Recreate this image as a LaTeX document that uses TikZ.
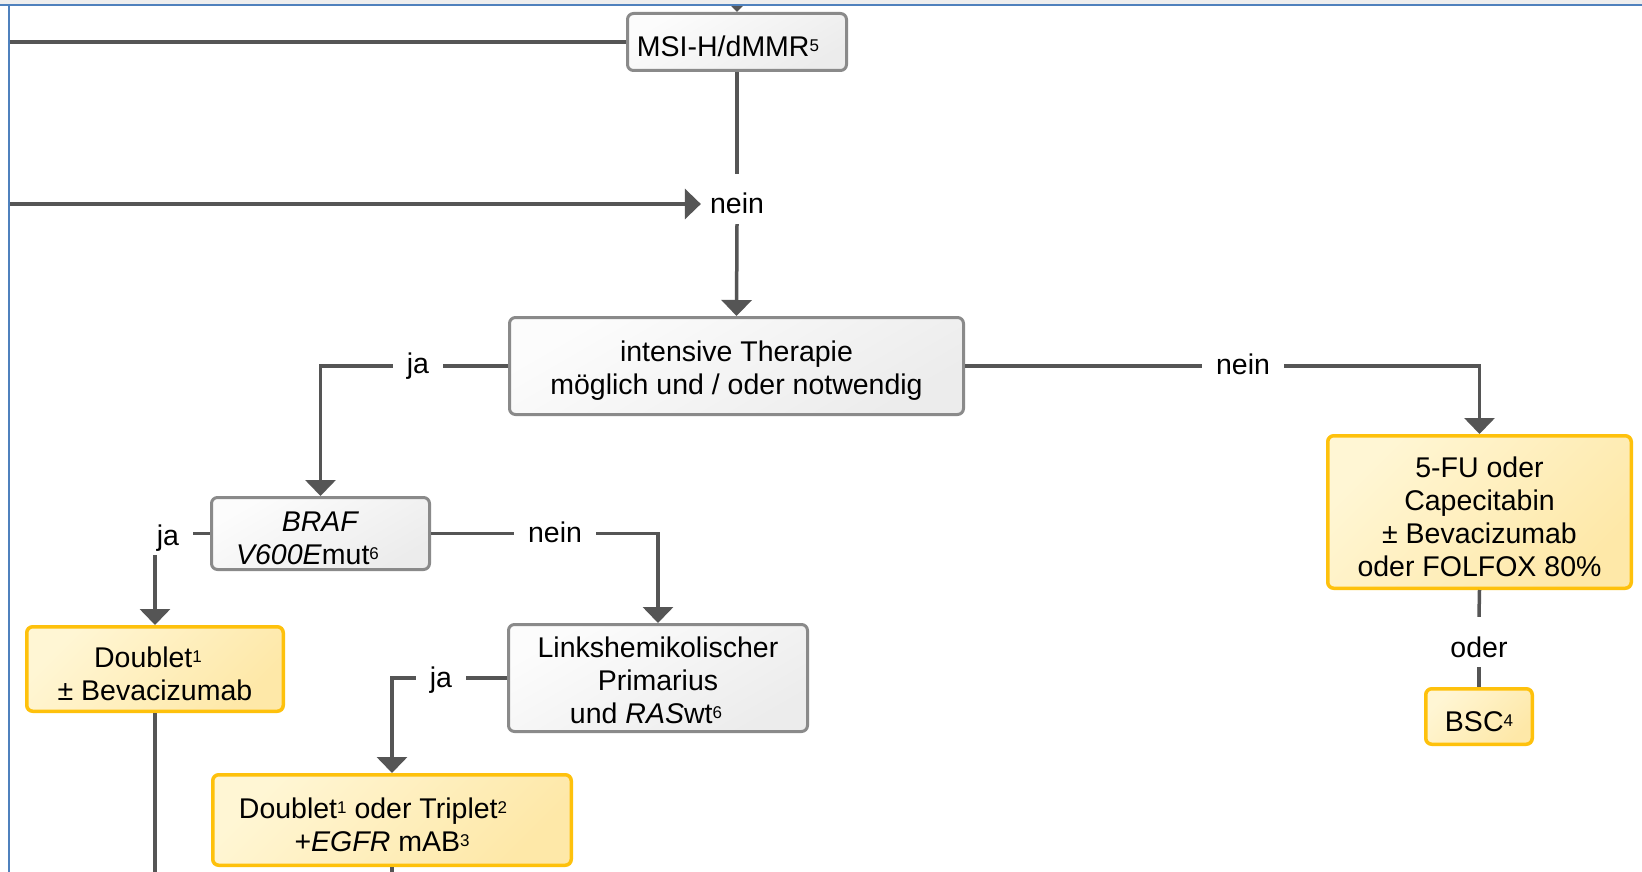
\documentclass[tikz,border=0pt]{standalone}
\usepackage{fontspec}
\setmainfont{Liberation Sans}
\usetikzlibrary{arrows.meta}

\definecolor{linecol}{RGB}{85,85,85}
\definecolor{grayborder}{RGB}{138,138,138}
\definecolor{grayA}{RGB}{252,252,252}
\definecolor{grayB}{RGB}{236,236,236}
\definecolor{yelborder}{RGB}{254,193,12}
\definecolor{yelA}{RGB}{255,246,212}
\definecolor{yelB}{RGB}{254,232,168}
\definecolor{frameblue}{RGB}{79,129,189}
\definecolor{bandgray}{RGB}{238,238,238}

\newcommand{\mainfs}{\fontsize{28.5pt}{33pt}\selectfont}
\newcommand{\supnum}[1]{\raisebox{5pt}{\fontsize{17pt}{17pt}\selectfont #1}}
% invisible strut that lowers the text block inside a box
\newcommand{\tstrut}{\rule{0pt}{30pt}}

\begin{document}
\begin{tikzpicture}[x=1pt,y=-1pt,
  box/.style={rounded corners=6pt, line width=3pt, align=center, font=\mainfs,
    inner sep=0pt, anchor=center},
  graybox/.style={box, draw=grayborder, top color=grayA, bottom color=grayB, shading angle=30},
  yelbox/.style={box, draw=yelborder, line width=3.5pt, top color=yelA, bottom color=yelB, shading angle=45},
  conn/.style={draw=linecol, line width=3.5pt},
  arr/.style={conn, -{Triangle[width=30pt,length=16pt]}},
  lbl/.style={font=\mainfs, inner xsep=14pt, inner ysep=0pt, text height=40pt, text depth=10pt, anchor=base}
]
\useasboundingbox (0,0) rectangle (1642,872);
\clip (0,0) rectangle (1642,872);
\fill[white] (0,0) rectangle (1642,872);

% decision and therapy boxes
\node[graybox, minimum width=219pt, minimum height=57pt] (msi) at (737,42) {\tstrut MSI-H/dMMR\supnum{5}\hspace*{18pt}};
\node[graybox, minimum width=454pt, minimum height=97pt] (intens) at (736.5,366) {\tstrut intensive Therapie\\möglich und / oder notwendig};
\node[graybox, minimum width=218pt, minimum height=72pt] (braf) at (320.5,533.5) {\tstrut\textit{BRAF}\\\textit{V600E}mut\supnum{6}\hspace*{26pt}};
\node[yelbox, minimum width=256.5pt, minimum height=84.5pt] (doub) at (155,669) {\tstrut Doublet\supnum{1}\hspace*{14pt}\\± Bevacizumab};
\node[graybox, minimum width=299pt, minimum height=107pt] (links) at (658,678) {\rule{0pt}{26pt}Linkshemikolischer\\Primarius\\und \textit{RAS}wt\supnum{6}\hspace*{24pt}};
\node[yelbox, minimum width=358.5pt, minimum height=90.5pt] (dt) at (392,820) {\tstrut Doublet\supnum{1} oder Triplet\supnum{2}\hspace*{38pt}\\+\textit{EGFR} mAB\supnum{3}\hspace*{20pt}};
\node[yelbox, minimum width=303.5pt, minimum height=152.5pt] (fu) at (1479.5,512) {\tstrut 5-FU oder\\Capecitabin\\± Bevacizumab\\oder FOLFOX 80\%};
\node[yelbox, minimum width=106.5pt, minimum height=55.5pt] (bsc) at (1479,716.5) {\tstrut BSC\supnum{4}};

% branch labels
\node[lbl, inner xsep=9pt] (n0) at (737,214) {nein};
\node[lbl] (jai) at (418,373) {ja};
\node[lbl] (nr) at (1243,374) {nein};
\node[lbl] (jab) at (168,545) {ja};
\node[lbl] (nb) at (555,542) {nein};
\node[lbl] (jal) at (441,687) {ja};
\node[lbl] (od) at (1479,657) {oder};

% free ends of connectors
\coordinate (in1) at (8,42);
\coordinate (in2) at (8,204);
\coordinate (top) at (737,-20);
\coordinate (bot) at (0,880);

% connectors
\draw[conn] (in1) -- (msi.west);
\draw[arr] (top) -- (msi.north);
\draw[conn] (msi.south) -- (n0.north);
\draw[arr] (n0.south) -- (intens.north);
\draw[arr] (in2) -- (n0.west |- in2);
\draw[conn] (intens.west) -- (jai.east |- intens.west);
\draw[arr] (jai.west |- intens.west) -| (braf.north);
\draw[conn] (intens.east) -- (nr.west |- intens.east);
\draw[arr] (nr.east |- intens.east) -| (fu.north);
\draw[conn] (braf.west) -- (jab.east |- braf.west);
\draw[arr] (jab.south -| doub.north) -- (doub.north);
\draw[conn] (braf.east) -- (nb.west |- braf.east);
\draw[arr] (nb.east |- braf.east) -| (links.north);
\draw[conn] (links.west) -- (jal.east |- links.west);
\draw[arr] (jal.west |- links.west) -| (dt.north);
\draw[conn] (fu.south) -- (od.north);
\draw[conn] (od.south) -- (bsc.north);
\draw[conn] (doub.south) -- (doub.south |- bot);
\draw[conn] (dt.south) -- (dt.south |- bot);

% frame of the page
\fill[bandgray] (0,0) rectangle (1642,4.5);
\draw[frameblue, line width=2pt] (0,5.5) -- (1642,5.5);
\draw[frameblue, line width=2pt] (9,5.5) -- (9,872);
\end{tikzpicture}
\end{document}
